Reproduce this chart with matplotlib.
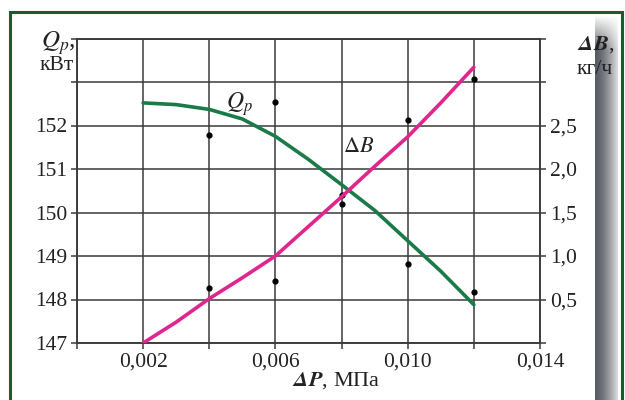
import numpy as np
import matplotlib.pyplot as plt

plt.rcParams['font.family'] = ['Liberation Serif', 'DejaVu Serif']
plt.rcParams['mathtext.fontset'] = 'stix'

# давление, МПа
dp = [0.002, 0.003, 0.004, 0.005, 0.006, 0.007, 0.008, 0.009, 0.010, 0.011, 0.012]
# мощность Qp, кВт (кривая)
qp = [152.52, 152.48, 152.37, 152.15, 151.75, 151.22, 150.64, 150.05, 149.35, 148.65, 147.88]
# расход dB, кг/ч (кривая)
db = [0.0, 0.24, 0.51, 0.75, 1.0, 1.34, 1.68, 2.03, 2.37, 2.76, 3.17]

# экспериментальные точки
dp_pts = [0.004, 0.006, 0.008, 0.010, 0.012]
qp_pts = [151.79, 152.54, 150.41, 148.82, 148.18]
db_pts = [0.63, 0.71, 1.60, 2.56, 3.03]

x_ticks = [0.0, 0.002, 0.004, 0.006, 0.008, 0.010, 0.012, 0.014]
x_labels = ['', '0,002', '', '0,006', '', '0,010', '', '0,014']
q_ticks = [147, 148, 149, 150, 151, 152, 153, 154]
q_labels = ['147', '148', '149', '150', '151', '152', '', '']
b_ticks = [0.0, 0.5, 1.0, 1.5, 2.0, 2.5, 3.0, 3.5]
b_labels = ['', '0,5', '1,0', '1,5', '2,0', '2,5', '', '']

W, H = 625, 400
fig = plt.figure(figsize=(W / 100, H / 100), dpi=100)
fig.patch.set_facecolor('white')

ax = fig.add_axes([77 / W, 1 - 343 / H, (540 - 77) / W, (343 - 38.5) / H])
ax2 = ax.twinx()

ax.set_xlim(0, 0.014)
ax.set_ylim(147, 154)
ax2.set_ylim(0, 3.5)

ax.set_xticks(x_ticks)
ax.set_xticklabels(x_labels)
ax.set_yticks(q_ticks)
ax.set_yticklabels(q_labels)
ax2.set_yticks(b_ticks)
ax2.set_yticklabels(b_labels)

ax.grid(True, color='#3a3a3a', lw=1.1)
ax.set_axisbelow(True)
for a in (ax, ax2):
    for s in a.spines.values():
        s.set_color('#3a3a3a')
        s.set_linewidth(1.1)
    a.tick_params(direction='out', length=4, width=1.1, color='#3a3a3a',
                  labelsize=15.5, labelcolor='#222222', pad=3)

# кривые
ax.plot(dp, qp, color='#1a7a48', lw=2.6, solid_capstyle='round', zorder=3)
ax2.plot(dp, db, color='#e0258c', lw=2.6, solid_capstyle='round', zorder=3)
ax.scatter(dp_pts, qp_pts, s=12, color='black', zorder=4)
ax2.scatter(dp_pts, db_pts, s=12, color='black', zorder=4)

# подписи кривых
ax.text(0.0049, 152.5, r'$Q_p$', fontsize=17, color='#222222', ha='center', va='center')
ax.text(0.0085, 151.5, r'$\Delta B$', fontsize=16, color='#222222', ha='center', va='center')

# подписи осей
fig.text(76 / W, 1 - 43 / H, r'$\mathit{Q}_{\mathit{p}}$,', fontsize=18, ha='right', va='center', color='#222222')
fig.text(74 / W, 1 - 66 / H, 'кВт', fontsize=15.5, ha='right', va='center', color='#222222')
fig.text(577 / W, 1 - 45 / H, r'$\mathbfit{\Delta B}$,', fontsize=16, ha='left', va='center', color='#222222')
fig.text(577 / W, 1 - 70 / H, 'кг/ч', fontsize=15.5, ha='left', va='center', color='#222222')
fig.text(336 / W, 1 - 381 / H, r'$\mathbfit{\Delta P}$, МПа', fontsize=16, ha='center', va='center', color='#222222')

# серая тень справа
band = fig.add_axes([595 / W, 0, 23 / W, (400 - 15) / H])
bh, bw = 385, 23
c0 = np.array([88, 93, 100]) / 255
c1 = np.array([220, 220, 222]) / 255
t = np.linspace(0, 1, bw) ** 1.5
row = c0[None, :] * (1 - t[:, None]) + c1[None, :] * t[:, None]
img = np.ones((bh, bw, 4))
img[:, :, :3] = row[None, :, :]
fade = np.clip(np.arange(bh) / 35.0, 0, 1)
img[:, :, 3] = fade[:, None]
band.imshow(img, aspect='auto', interpolation='bilinear')
band.axis('off')

# зелёная рамка
frame = fig.add_axes([0, 0, 1, 1], facecolor='none')
frame.set_xlim(0, W)
frame.set_ylim(H, 0)
frame.axis('off')
green = '#1f5a2c'
frame.plot([9.5, 9.5], [12, 410], color=green, lw=2.2, solid_capstyle='butt')
frame.plot([9.5, 621.5], [12, 12], color=green, lw=2.2, solid_capstyle='projecting')
frame.plot([621.5, 621.5], [12, 410], color=green, lw=2.2, solid_capstyle='butt')

fig.savefig('out.png', dpi=100)
